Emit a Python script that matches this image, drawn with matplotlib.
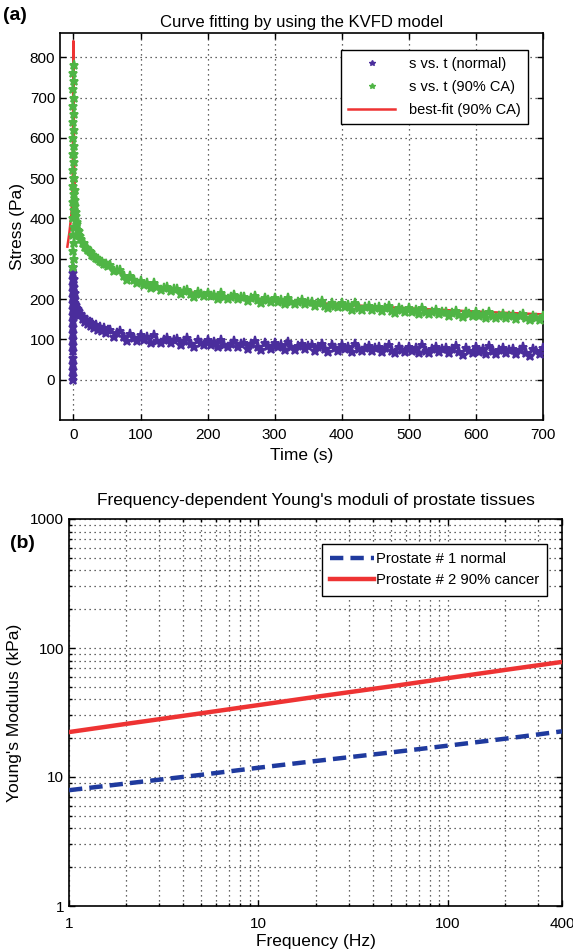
import matplotlib
matplotlib.use("Agg")
import matplotlib.pyplot as plt
from matplotlib.lines import Line2D
from matplotlib.ticker import FixedLocator, NullFormatter, LogLocator

plt.rcParams['font.family'] = ['Liberation Sans', 'DejaVu Sans']

# ---------------- Panel (a) data ----------------
ramp_normal_time = [0] * 20
ramp_normal_stress = [0, 10, 25, 40, 55, 70, 85, 100, 115, 130, 145, 160, 175, 190, 205, 220, 235, 250, 265, 280]
ramp_ca_time = [0, 0.5] * 13
ramp_ca_stress = [280, 300, 320, 340, 360, 380, 400, 420, 440, 460, 480, 500, 520, 540, 560,
                  580, 600, 620, 640, 660, 680, 700, 720, 740, 760, 780]

early_time = [1, 1.5, 2, 2.5, 3, 3.5, 4, 5, 6, 7, 8, 9, 10, 12, 14, 16, 18, 20, 22, 24, 26, 28, 30,
              33, 36, 39, 42, 45, 48, 51]
early_normal = [250, 230, 215, 200, 190, 185, 180, 178, 168, 175, 163, 170, 160, 162, 150, 155, 142,
                148, 137, 143, 132, 140, 128, 135, 124, 131, 120, 128, 117, 124]
early_ca = [560, 500, 470, 445, 430, 415, 405, 392, 385, 372, 368, 360, 356, 350, 340, 338, 330, 327,
            322, 318, 316, 309, 308, 302, 300, 294, 293, 288, 287, 283]

decay_time = list(range(55, 701, 5))
decay_normal = [123, 107, 116, 121, 105, 97, 113, 104, 97, 110, 98, 105, 91, 110, 97, 91, 99, 104, 91, 98,
                100, 86, 97, 103, 89, 82, 99, 91, 85, 98, 87, 93, 80, 99, 87, 81, 89, 95, 81, 89,
                91, 77, 88, 95, 81, 74, 91, 84, 77, 91, 80, 86, 73, 93, 80, 74, 83, 89, 75, 83,
                85, 72, 82, 89, 75, 69, 86, 78, 72, 86, 75, 82, 68, 88, 76, 70, 79, 84, 71, 79,
                81, 68, 78, 85, 71, 65, 82, 74, 68, 82, 71, 78, 65, 85, 72, 66, 75, 81, 68, 76,
                78, 65, 76, 83, 69, 62, 79, 72, 66, 80, 69, 76, 63, 83, 70, 64, 73, 79, 66, 74,
                76, 63, 74, 81, 67, 60, 77, 70, 64, 78]
decay_ca = [284, 269, 272, 271, 257, 247, 256, 247, 239, 246, 236, 239, 227, 240, 229, 223, 227, 231, 219, 224,
            224, 213, 220, 223, 212, 206, 218, 212, 207, 216, 207, 211, 200, 214, 205, 200, 205, 210, 200, 205,
            206, 196, 203, 207, 197, 191, 203, 197, 193, 202, 193, 198, 187, 202, 192, 187, 193, 197, 187, 192,
            193, 183, 190, 194, 184, 178, 190, 184, 180, 189, 180, 185, 174, 189, 179, 174, 180, 184, 174, 179,
            180, 170, 177, 182, 171, 165, 178, 172, 168, 177, 168, 173, 162, 177, 167, 163, 168, 173, 162, 168,
            169, 159, 166, 171, 160, 155, 167, 162, 157, 167, 158, 163, 153, 167, 158, 153, 159, 164, 153, 159,
            161, 150, 158, 162, 152, 147, 159, 154, 149, 159]

fit_time = [-9, -6, -3, -2, -1, 0, 1, 2, 3, 5, 8, 10, 15, 20, 30, 40, 50, 70, 100, 150, 200, 300,
            400, 500, 600, 700]
fit_stress = [330, 365, 410, 440, 500, 840, 560, 480, 440, 398, 372, 358, 339, 327, 308, 295, 284, 264,
              241, 222, 211, 197, 186, 177, 169, 162]

# ---------------- Panel (b) data ----------------
freq = [1, 2, 5, 10, 20, 50, 100, 200, 400]
modulus_normal = [7.9, 8.9, 10.4, 11.8, 13.3, 15.5, 17.5, 19.8, 22.6]
modulus_cancer = [22.3, 25.8, 31.2, 36.1, 41.8, 50.4, 58.4, 67.6, 78.0]

c_purple = '#4a2d9c'
c_green = '#4fb545'
c_red = '#ee3333'
c_blue = '#1f3a9e'

fig = plt.figure(figsize=(5.73, 9.52), dpi=100)
fig.patch.set_facecolor('white')

grid_kw = dict(color='black', linestyle=(0, (1, 3)), linewidth=0.9, alpha=0.8)

# ---------------- Panel (a) ----------------
ax1 = fig.add_axes([60 / 573, 1 - 420 / 952, 483 / 573, 387 / 952])
t_normal = ramp_normal_time + early_time + decay_time
s_normal = ramp_normal_stress + early_normal + decay_normal
t_ca = ramp_ca_time + early_time + decay_time
s_ca = ramp_ca_stress + early_ca + decay_ca

mk = dict(linestyle='none', marker='*', markersize=6.5, markeredgewidth=1.4)
ax1.plot(t_normal, s_normal, color=c_purple, zorder=3, **mk)
ax1.plot(fit_time, fit_stress, color=c_red, linewidth=1.8, zorder=3.5)
ax1.plot(t_ca, s_ca, color=c_green, zorder=4, **mk)

ax1.set_xlim(-20, 700)
ax1.set_ylim(-100, 860)
ax1.set_xticks(range(0, 701, 100))
ax1.set_yticks(range(0, 801, 100))
ax1.grid(True, **grid_kw)
ax1.set_axisbelow(True)
ax1.tick_params(direction='in', top=True, right=True, labelsize=11, length=4, width=1)
ax1.tick_params(axis='x', pad=6)
for sp in ax1.spines.values():
    sp.set_linewidth(1.2)
ax1.set_title('Curve fitting by using the KVFD model', fontsize=12, pad=4)
ax1.set_xlabel('Time (s)', fontsize=12.5, labelpad=4)
ax1.set_ylabel('Stress (Pa)', fontsize=12.5, labelpad=3)

h1 = [Line2D([], [], linestyle='none', marker='*', markersize=4, color=c_purple),
      Line2D([], [], linestyle='none', marker='*', markersize=4, color=c_green),
      Line2D([], [], color=c_red, linewidth=1.8)]
leg1 = ax1.legend(h1, ['s vs. t (normal)', 's vs. t (90% CA)', 'best-fit (90% CA)'],
                  loc='upper right', bbox_to_anchor=(0.985, 0.975), fontsize=10.5,
                  frameon=True, fancybox=False, edgecolor='black', framealpha=1,
                  labelspacing=0.6, handlelength=3.2, borderpad=0.5, handletextpad=1.0)
leg1.get_frame().set_linewidth(1.0)

fig.text(3 / 573, 1 - 16 / 952, '(a)', fontsize=14, fontweight='bold', va='center', ha='left')

# ---------------- Panel (b) ----------------
ax2 = fig.add_axes([69 / 573, 1 - 906 / 952, 493 / 573, 387 / 952])
ax2.plot(freq, modulus_normal, color=c_blue, linewidth=3.2, linestyle=(0, (3, 1.6)), zorder=3)
ax2.plot(freq, modulus_cancer, color=c_red, linewidth=3.2, zorder=3)
ax2.set_xscale('log')
ax2.set_yscale('log')
ax2.set_xlim(1, 400)
ax2.set_ylim(1, 1000)
ax2.xaxis.set_major_locator(FixedLocator([1, 10, 100, 400]))
ax2.set_xticklabels(['1', '10', '100', '400'])
ax2.xaxis.set_minor_locator(LogLocator(base=10, subs=range(2, 10), numticks=20))
ax2.xaxis.set_minor_formatter(NullFormatter())
ax2.yaxis.set_major_locator(FixedLocator([1, 10, 100, 1000]))
ax2.set_yticklabels(['1', '10', '100', '1000'])
ax2.yaxis.set_minor_locator(LogLocator(base=10, subs=range(2, 10), numticks=20))
ax2.yaxis.set_minor_formatter(NullFormatter())
ax2.grid(True, which='both', **grid_kw)
ax2.set_axisbelow(True)
ax2.tick_params(which='both', direction='in', top=True, right=True, labelsize=11, width=1)
ax2.tick_params(which='major', length=4)
ax2.tick_params(which='minor', length=2.5)
ax2.tick_params(axis='x', which='major', pad=8)
for sp in ax2.spines.values():
    sp.set_linewidth(1.2)
ax2.set_title("Frequency-dependent Young's moduli of prostate tissues", fontsize=12.5, pad=10)
ax2.set_xlabel('Frequency (Hz)', fontsize=12.5, labelpad=2)
ax2.set_ylabel("Young's Modulus (kPa)", fontsize=12.5, labelpad=6)

h2 = [Line2D([], [], color=c_blue, linewidth=3.2, linestyle=(0, (3, 1.6))),
      Line2D([], [], color=c_red, linewidth=3.2)]
leg2 = ax2.legend(h2, ['Prostate # 1 normal', 'Prostate # 2 90% cancer'],
                  loc='upper right', bbox_to_anchor=(0.985, 0.955), fontsize=10.7,
                  frameon=True, fancybox=False, edgecolor='black', framealpha=1,
                  labelspacing=0.5, handlelength=2.9, borderpad=0.55, handletextpad=0.15)
leg2.get_frame().set_linewidth(1.0)

fig.text(10 / 573, 1 - 543 / 952, '(b)', fontsize=14, fontweight='bold', va='center', ha='left')

fig.savefig('out.png', dpi=100, facecolor=fig.get_facecolor())
